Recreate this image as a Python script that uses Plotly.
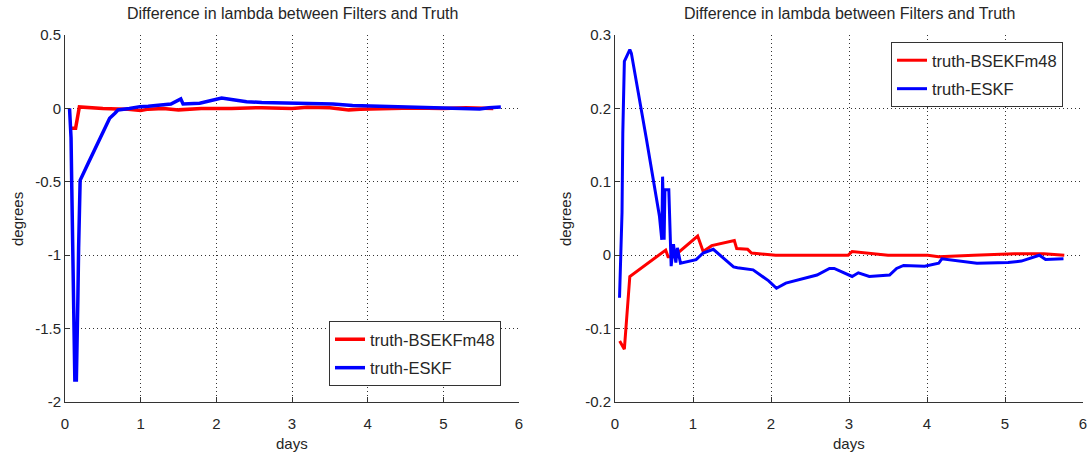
import plotly.graph_objects as go

# ---------------- data ----------------
left_red_x = [0.08, 0.14, 0.19, 0.3, 0.5, 0.8, 1.0, 1.1, 1.3, 1.5, 1.6, 1.8, 2.2, 2.6, 3.0, 3.2, 3.5, 3.75, 3.9, 4.2, 4.6, 5.0, 5.3, 5.66]
left_red_y = [-0.135, -0.135, 0.01, 0.005, 0.0, -0.005, -0.015, -0.005, 0.0, -0.01, -0.005, 0.0, 0.0, 0.005, 0.0, 0.008, 0.005, -0.01, -0.005, 0.0, 0.003, 0.0, 0.005, 0.0]

left_blue_x = [0.06, 0.08, 0.09, 0.10, 0.11, 0.12, 0.13, 0.15, 0.16, 0.17, 0.18, 0.19, 0.20, 0.30, 0.45, 0.59, 0.66, 0.70, 0.85, 0.99, 1.1, 1.25, 1.4, 1.53, 1.55, 1.56, 1.78, 2.07, 2.2, 2.4, 2.6, 2.93, 3.2, 3.54, 3.8, 4.07, 4.5, 5.04, 5.25, 5.48, 5.6, 5.76]
left_blue_y = [0.0, -0.2, -0.55, -0.9, -1.3, -1.65, -1.85, -1.85, -1.65, -1.3, -0.95, -0.65, -0.49, -0.38, -0.22, -0.067, -0.033, -0.011, 0.0, 0.012, 0.015, 0.023, 0.03, 0.065, 0.04, 0.03, 0.035, 0.07, 0.06, 0.046, 0.04, 0.035, 0.03, 0.03, 0.02, 0.016, 0.01, 0.007, 0.0, -0.004, 0.005, 0.01]

right_red_x = [0.06, 0.12, 0.19, 0.4, 0.65, 0.68, 0.75, 1.06, 1.13, 1.24, 1.53, 1.56, 1.70, 1.75, 2.06, 2.5, 2.99, 3.04, 3.5, 4.01, 4.15, 4.6, 5.12, 5.5, 5.76]
right_red_y = [-0.117, -0.128, -0.029, -0.012, 0.007, -0.002, -0.002, 0.026, 0.005, 0.013, 0.02, 0.009, 0.008, 0.003, 0.0, 0.0, 0.0, 0.005, 0.0, 0.0, -0.002, 0.0, 0.002, 0.002, 0.0]

right_blue_x = [0.058, 0.07, 0.09, 0.1, 0.12, 0.19, 0.21, 0.4, 0.57, 0.60, 0.61, 0.63, 0.64, 0.69, 0.72, 0.75, 0.78, 0.80, 0.84, 1.04, 1.13, 1.26, 1.52, 1.57, 1.77, 1.97, 2.07, 2.19, 2.59, 2.75, 2.81, 3.04, 3.12, 3.26, 3.52, 3.61, 3.70, 3.97, 4.15, 4.19, 4.46, 4.64, 5.04, 5.21, 5.44, 5.52, 5.75]
right_blue_y = [-0.058, -0.024, 0.058, 0.166, 0.264, 0.28, 0.275, 0.16, 0.053, 0.021, 0.107, 0.021, 0.089, 0.089, -0.015, 0.015, -0.01, 0.01, -0.011, -0.006, 0.003, 0.008, -0.016, -0.017, -0.02, -0.035, -0.045, -0.038, -0.027, -0.018, -0.018, -0.029, -0.024, -0.029, -0.027, -0.018, -0.014, -0.015, -0.011, -0.005, -0.008, -0.011, -0.01, -0.008, 0.0, -0.006, -0.005]

names = ["truth-BSEKFm48", "truth-ESKF"]
title_text = "Difference in lambda between Filters and Truth"
x_ticks = [0, 1, 2, 3, 4, 5, 6]
left_y_ticks = [-2, -1.5, -1, -0.5, 0, 0.5]
left_y_labels = ["-2", "-1.5", "-1", "-0.5", "0", "0.5"]
right_y_ticks = [-0.2, -0.1, 0, 0.1, 0.2, 0.3]
right_y_labels = ["-0.2", "-0.1", "0", "0.1", "0.2", "0.3"]

FONT = "Liberation Sans, Arial, Helvetica, sans-serif"
TXT = "#262626"
W, H = 1091, 456

fig = go.Figure()
fig.add_trace(go.Scatter(x=left_red_x, y=left_red_y, mode="lines", name=names[0],
                         line=dict(color="#ff0000", width=3.5), xaxis="x", yaxis="y",
                         legend="legend", legendgroup="a"))
fig.add_trace(go.Scatter(x=left_blue_x, y=left_blue_y, mode="lines", name=names[1],
                         line=dict(color="#0000ff", width=3.5), xaxis="x", yaxis="y",
                         legend="legend", legendgroup="b"))
fig.add_trace(go.Scatter(x=right_red_x, y=right_red_y, mode="lines", name=names[0],
                         line=dict(color="#ff0000", width=3), xaxis="x2", yaxis="y2",
                         legend="legend2", legendgroup="c"))
fig.add_trace(go.Scatter(x=right_blue_x, y=right_blue_y, mode="lines", name=names[1],
                         line=dict(color="#0000ff", width=3), xaxis="x2", yaxis="y2",
                         legend="legend2", legendgroup="d"))

def xax(domain, anchor):
    return dict(domain=domain, anchor=anchor, range=[0, 6], tickvals=x_ticks,
                showgrid=True, gridcolor="#333333", griddash="1px,3px", gridwidth=1,
                zeroline=False, showline=True, linecolor="#333333", linewidth=1,
                ticks="inside", ticklen=5, tickcolor="#333333", mirror=False,
                automargin=False, ticklabelstandoff=8,
                tickfont=dict(family=FONT, size=15, color=TXT))

def yax(domain, anchor, rng, tv, tt):
    return dict(domain=domain, anchor=anchor, range=rng, tickvals=tv, ticktext=tt,
                showgrid=True, gridcolor="#333333", griddash="1px,3px", gridwidth=1,
                zeroline=False, showline=True, linecolor="#333333", linewidth=1,
                ticks="inside", ticklen=5, tickcolor="#333333", mirror=False,
                automargin=False,
                tickfont=dict(family=FONT, size=15, color=TXT))

ydom = [54 / H, 421 / H]
lx = [65 / W, 519 / W]
rx = [615 / W, 1083 / W]

legend_common = dict(bgcolor="white", bordercolor="#333333", borderwidth=1,
                     font=dict(family=FONT, size=16.5, color=TXT),
                     xanchor="left", yanchor="top", tracegroupgap=4,
                     traceorder="grouped")

annotations = [
    dict(text=title_text, x=(65 + 519) / 2 / W, y=1 - 13 / H, xref="paper", yref="paper",
         showarrow=False, font=dict(family=FONT, size=16, color=TXT), xanchor="center", yanchor="middle"),
    dict(text=title_text, x=(615 + 1083) / 2 / W, y=1 - 13 / H, xref="paper", yref="paper",
         showarrow=False, font=dict(family=FONT, size=16, color=TXT), xanchor="center", yanchor="middle"),
    dict(text="days", x=(65 + 519) / 2 / W, y=1 - 443 / H, xref="paper", yref="paper",
         showarrow=False, font=dict(family=FONT, size=15, color=TXT), xanchor="center", yanchor="middle"),
    dict(text="days", x=(615 + 1083) / 2 / W, y=1 - 443 / H, xref="paper", yref="paper",
         showarrow=False, font=dict(family=FONT, size=15, color=TXT), xanchor="center", yanchor="middle"),
    dict(text="degrees", x=17 / W, y=1 - 219 / H, xref="paper", yref="paper", textangle=-90,
         showarrow=False, font=dict(family=FONT, size=15, color=TXT), xanchor="center", yanchor="middle"),
    dict(text="degrees", x=565 / W, y=1 - 219 / H, xref="paper", yref="paper", textangle=-90,
         showarrow=False, font=dict(family=FONT, size=15, color=TXT), xanchor="center", yanchor="middle"),
]

fig.update_layout(
    width=W, height=H,
    margin=dict(l=0, r=0, t=0, b=0, autoexpand=False),
    paper_bgcolor="white", plot_bgcolor="white",
    xaxis=xax(lx, "y"),
    yaxis=yax(ydom, "x", [-2, 0.5], left_y_ticks, left_y_labels),
    xaxis2=xax(rx, "y2"),
    yaxis2=yax(ydom, "x2", [-0.2, 0.3], right_y_ticks, right_y_labels),
    legend=dict(x=329 / W, y=1 - 321 / H, **legend_common),
    legend2=dict(x=891 / W, y=1 - 42 / H, **legend_common),
    annotations=annotations,
    showlegend=True,
)

fig.write_html("out.html")
